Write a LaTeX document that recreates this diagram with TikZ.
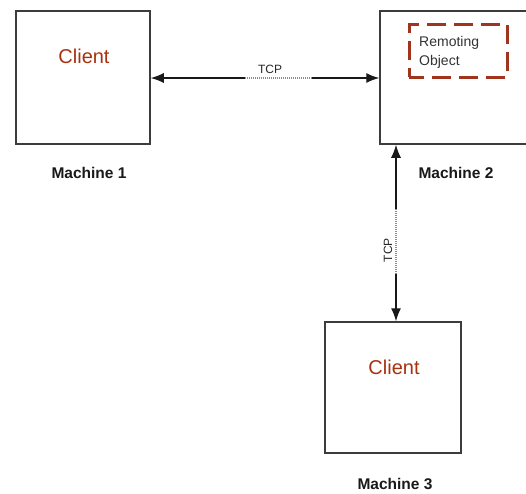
\documentclass[tikz,border=0pt]{standalone}
\usepackage{fontspec}
\setmainfont{Liberation Sans}
\usetikzlibrary{arrows.meta}
\definecolor{boxline}{RGB}{60,60,60}
\definecolor{clientred}{RGB}{168,50,16}
\definecolor{dashred}{RGB}{160,52,28}
\tikzset{
  machine/.style={draw=boxline, line width=1.5pt, minimum width=#1, minimum height=133pt, inner sep=0pt},
  clienttxt/.style={text=clientred, font=\fontsize{20}{24}\selectfont},
  machtxt/.style={font=\bfseries\fontsize{15.5}{18}\selectfont, text=black!90},
  tcptxt/.style={font=\fontsize{12}{14}\selectfont, text=black!85, inner sep=1pt},
  link/.style={line width=1.2pt, draw=black!90},
  linktip/.style={-{Latex[length=13pt,width=10pt]}},
  dotlink/.style={line width=1.2pt, draw=black!45, dash pattern=on 1pt off 1pt},
}
\begin{document}
\begin{tikzpicture}[x=1pt,y=-1pt]
\clip (0,0) rectangle (526,493);
\fill[white] (0,0) rectangle (526,493);
% machines
\node[machine=134pt] (box1) at (83,77.5) {};
\node[machine=150pt] (box2) at (455,77.5) {};
\node[machine=136pt, minimum height=131pt] (box3) at (393,387.5) {};
% texts
\node[clienttxt] (client1) at (84,56) {Client};
\node[clienttxt] (client3) at (394,367) {Client};
\node[machtxt] (m1) at (89,173) {Machine 1};
\node[machtxt] (m2) at (456,173) {Machine 2};
\node[machtxt] (m3) at (395,484) {Machine 3};
% remoting object
\node[draw=dashred, line width=3pt, dash pattern=on 19pt off 8pt, dash phase=4pt, minimum width=98pt, minimum height=53pt, inner sep=0pt] (robj) at (458,50.5) {};
\node[anchor=west, align=left, font=\fontsize{14}{19}\selectfont, text=black!80, inner sep=0pt] (robjtxt) at (419,52.5) {Remoting\\Object};
% horizontal link
\coordinate (h1) at (245,78);
\coordinate (h2) at (312,78);
\draw[link, linktip] (h1) -- (box1.east |- h1);
\draw[dotlink] (h1) -- (h2);
\draw[link, linktip] (h2) -- (box2.west |- h2);
\node[tcptxt] (tcp1) at (270,69) {TCP};
% vertical link
\coordinate (v1) at (396,209);
\coordinate (v2) at (396,274);
\draw[link, linktip] (v1) -- (box2.south -| v1);
\draw[dotlink] (v1) -- (v2);
\draw[link, linktip] (v2) -- (box3.north -| v2);
\node[tcptxt, rotate=90] (tcp2) at (388,250) {TCP};
\end{tikzpicture}
\end{document}
